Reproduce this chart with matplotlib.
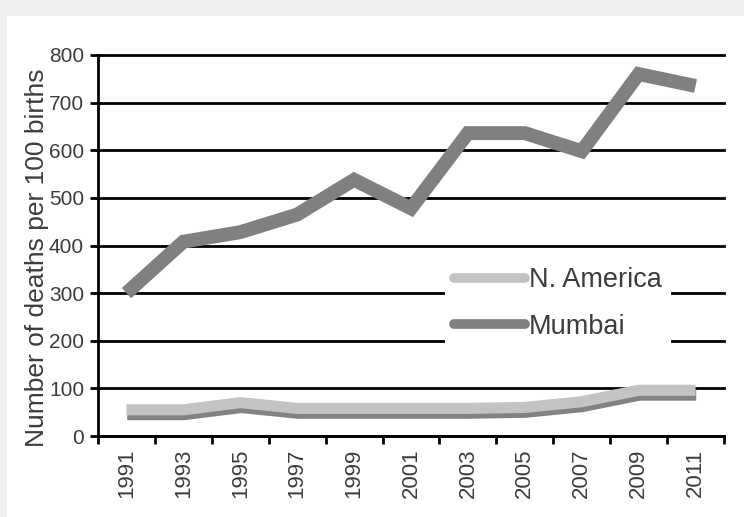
import numpy as np
import matplotlib
matplotlib.use('Agg')
import matplotlib.pyplot as plt
from matplotlib import patheffects
from matplotlib.lines import Line2D
from matplotlib.patches import Rectangle

# values
years = ['1991', '1993', '1995', '1997', '1999', '2001', '2003', '2005', '2007', '2009', '2011']
mumbai = [300, 408, 428, 465, 538, 478, 636, 636, 598, 760, 735]
n_america = [55, 55, 70, 58, 58, 58, 58, 60, 72, 96, 96]
series_names = ['N. America', 'Mumbai']

plt.rcParams['font.family'] = ['Liberation Sans', 'DejaVu Sans']
text_color = '#3c3c3c'

W, H = 744, 517
fig = plt.figure(figsize=(W / 100, H / 100), dpi=100, facecolor='#f0f0f0')
# white panel, leaving the thin grey frame at top and left
fig.patches.append(Rectangle((7 / W, 0), 1, (H - 16) / H, transform=fig.transFigure,
                             facecolor='white', edgecolor='none', zorder=-5))

ax = fig.add_axes([98 / W, (H - 436) / H, (724 - 98) / W, (436 - 55) / H])
ax.set_zorder(2)
ax.set_facecolor('white')

x = np.arange(len(years))
ax.plot(x, mumbai, color='#808080', lw=10, solid_joinstyle='miter',
        solid_capstyle='butt', zorder=3)
ax.plot(x, n_america, color='#c3c3c3', lw=8, solid_capstyle='butt', zorder=4,
        path_effects=[patheffects.SimpleLineShadow(offset=(0.5, -3.5), shadow_color='#828282', alpha=1),
                      patheffects.Normal()])

ax.set_xlim(-0.5, len(years) - 0.5)
ax.set_ylim(0, 800)
ax.set_yticks(range(0, 801, 100))
ax.yaxis.grid(True, color='black', lw=2)
for gl in ax.get_ygridlines():
    gl.set_clip_on(False)
ax.set_axisbelow(True)

# ticks between categories, labels at the category centres
ax.set_xticks(np.arange(len(years) + 1) - 0.5)
ax.set_xticklabels([])
ax.set_xticks(x, minor=True)
ax.set_xticklabels(years, minor=True, rotation=90, fontsize=16, color=text_color)
ax.tick_params(axis='x', which='minor', length=0, pad=9)
ax.tick_params(axis='x', which='major', length=6, width=2, direction='out')
ax.tick_params(axis='y', length=6, width=2, direction='out', pad=4,
               labelsize=15, labelcolor=text_color)

for side in ['top', 'right']:
    ax.spines[side].set_visible(False)
for side in ['left', 'bottom']:
    ax.spines[side].set_linewidth(2)
    ax.spines[side].set_zorder(5)

fig.text(37 / W, 1 - 258 / H, 'Number of deaths per 100 births', rotation=90,
         fontsize=19, color=text_color, ha='center', va='center')

handles = [Line2D([], [], color='#c3c3c3', lw=7, solid_capstyle='round'),
           Line2D([], [], color='#808080', lw=7, solid_capstyle='round')]
leg = ax.legend(handles, series_names, loc='upper left',
                bbox_to_anchor=(445 / W, 1 - 258 / H), bbox_transform=fig.transFigure,
                fontsize=19.5, handlelength=2.6, handletextpad=0.15, labelspacing=0.75,
                borderaxespad=0, borderpad=0.35, frameon=True, fancybox=False,
                facecolor='white', edgecolor='none', framealpha=1)
for t in leg.get_texts():
    t.set_color(text_color)
leg.set_zorder(6)

fig.savefig('out.png', dpi=100, facecolor=fig.get_facecolor())
